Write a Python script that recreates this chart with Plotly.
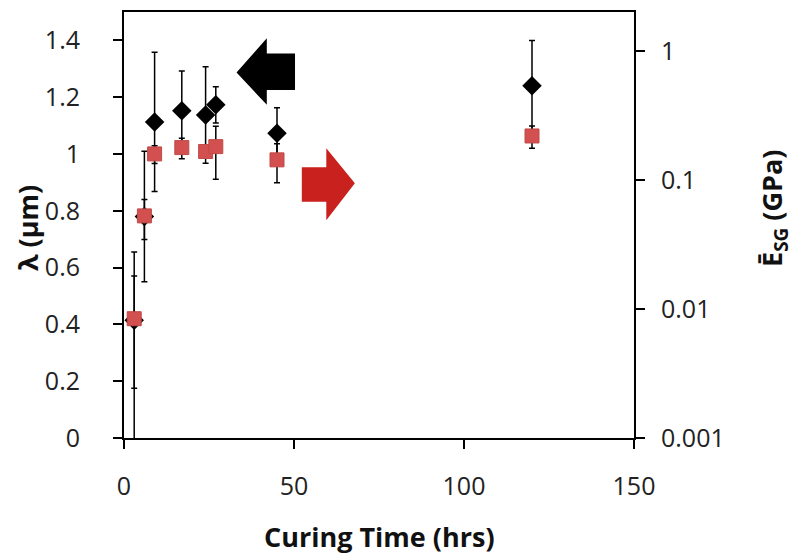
import plotly.graph_objects as go

# Data
curing_time = [3, 6, 9, 17, 24, 27, 45, 120]
wavelength = [0.415, 0.78, 1.113, 1.152, 1.137, 1.173, 1.073, 1.24]
wavelength_err = [0.24, 0.23, 0.245, 0.14, 0.17, 0.064, 0.09, 0.16]
modulus = [0.0084, 0.0526, 0.159, 0.178, 0.166, 0.181, 0.143, 0.219]
modulus_err = [0.0096, 0.018, 0.025, 0.032, 0.012, 0.08, 0.048, 0.043]

x_ticks = [0, 50, 100, 150]
y_ticks = [0, 0.2, 0.4, 0.6, 0.8, 1.0, 1.2, 1.4]
y_ticktext = ["0", "0.2", "0.4", "0.6", "0.8", "1", "1.2", "1.4"]
y2_ticks = [0.001, 0.01, 0.1, 1]
y2_ticktext = ["0.001", "0.01", "0.1", "1"]

x_title = "<b>Curing Time (hrs)</b>"
y_title = "<b>λ (μm)</b>"
y2_title = "<b>Ē<sub>SG</sub> (GPa)</b>"

FONT = "Open Sans, sans-serif"

fig = go.Figure()
fig.add_trace(go.Scatter(
    x=curing_time, y=wavelength, mode="markers",
    marker=dict(symbol="diamond", size=15, color="black"),
    error_y=dict(type="data", array=wavelength_err, color="black", thickness=1.5, width=3),
    yaxis="y", showlegend=False,
))
fig.add_trace(go.Scatter(
    x=curing_time, y=modulus, mode="markers",
    marker=dict(symbol="square", size=14, color="#D2504F",
                line=dict(color="#C04A48", width=1)),
    error_y=dict(type="data", array=modulus_err, color="black", thickness=1.5, width=3),
    yaxis="y2", showlegend=False,
))

# Direction arrows (decorations)
fig.add_shape(type="path", xref="x", yref="y",
              path="M 33.1,1.287 L 42.0,1.408 L 42.0,1.354 L 50.3,1.354 L 50.3,1.225 L 42.0,1.225 L 42.0,1.173 Z",
              fillcolor="black", line=dict(width=0))
fig.add_shape(type="path", xref="x", yref="y",
              path="M 52.3,0.953 L 59.5,0.953 L 59.5,1.020 L 67.9,0.897 L 59.5,0.767 L 59.5,0.832 L 52.3,0.832 Z",
              fillcolor="#C9211E", line=dict(width=0))

title_font = dict(family=FONT, size=27, color="#111111")
fig.add_annotation(text=x_title, xref="paper", yref="paper", x=0.5, y=-0.232,
                   xanchor="center", yanchor="middle", showarrow=False, font=title_font)
fig.add_annotation(text=y_title, xref="paper", yref="paper", x=-0.188, y=0.493,
                   xanchor="center", yanchor="middle", showarrow=False, textangle=-90, font=title_font)
fig.add_annotation(text=y2_title, xref="paper", yref="paper", x=1.2745, y=0.54,
                   xanchor="center", yanchor="middle", showarrow=False, textangle=-90, font=title_font)

axis_common = dict(showgrid=False, zeroline=False, automargin=False,
                   showline=True, linecolor="black", linewidth=2,
                   ticks="outside", ticklen=9, tickwidth=2, tickcolor="black")

fig.update_layout(
    width=791, height=547,
    margin=dict(l=116, r=165, t=4, b=117),
    paper_bgcolor="white", plot_bgcolor="white",
    font=dict(family=FONT, size=25, color="#222222"),
    xaxis=dict(range=[0, 150], tickvals=x_ticks, mirror=True, ticklabelstandoff=16, **axis_common),
    yaxis=dict(range=[0, 1.5], tickvals=y_ticks, ticktext=y_ticktext, ticklabelstandoff=28, **axis_common),
    yaxis2=dict(type="log", range=[-3, 0.301], tickvals=y2_ticks, ticktext=y2_ticktext,
                overlaying="y", side="right", ticklabelstandoff=11, **axis_common),
)

fig.write_html("out.html")
